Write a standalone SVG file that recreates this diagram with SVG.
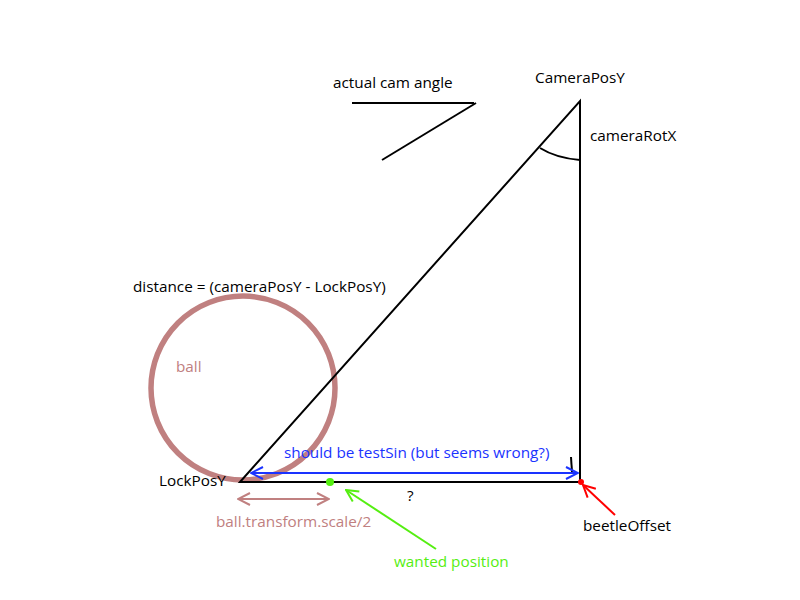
<svg xmlns="http://www.w3.org/2000/svg" width="800" height="600" viewBox="0 0 800 600">
<style>
text{font-family:"Open Sans","Noto Sans","Liberation Sans",sans-serif;font-size:15.3px;fill:#000}
.k{stroke:#000;stroke-width:2;fill:none}
.brown{fill:#c08080}
.blue{fill:#1a33ff}
.green{fill:#55ee11}
</style>
<defs>
<marker id="ab" viewBox="0 0 14 14" refX="13" refY="7" markerWidth="14" markerHeight="14" markerUnits="userSpaceOnUse" orient="auto-start-reverse"><path d="M1,1 L13,7 L1,13" fill="none" stroke="#1a33ff" stroke-width="2"/></marker>
<marker id="abr" viewBox="0 0 14 14" refX="13" refY="7" markerWidth="14" markerHeight="14" markerUnits="userSpaceOnUse" orient="auto-start-reverse"><path d="M1,1 L13,7 L1,13" fill="none" stroke="#c08080" stroke-width="2"/></marker>
<marker id="ag" viewBox="0 0 14 14" refX="13" refY="7" markerWidth="14" markerHeight="14" markerUnits="userSpaceOnUse" orient="auto"><path d="M1,1 L13,7 L1,13" fill="none" stroke="#55ee11" stroke-width="2"/></marker>
<marker id="ar" viewBox="0 0 14 14" refX="13" refY="7" markerWidth="14" markerHeight="14" markerUnits="userSpaceOnUse" orient="auto"><path d="M1,1 L13,7 L1,13" fill="none" stroke="#ff0000" stroke-width="2"/></marker>
</defs>
<rect width="800" height="600" fill="#fff"/>
<g id="ball">
<circle cx="243" cy="388" r="92" fill="none" stroke="#c08080" stroke-width="5.5"/>
<text x="176" y="372" class="brown">ball</text>
</g>
<g id="triangle">
<path class="k" d="M240,482 L580,101 L580,482 Z"/>
<path class="k" d="M540,148 Q556,158 580,160"/>
<path class="k" d="M571,457 L572,472"/>
</g>
<g id="cam-angle">
<path class="k" d="M352,103 L474,103"/>
<path class="k" d="M476,103 L382,160"/>
<text x="333" y="88">actual cam angle</text>
</g>
<g id="labels">
<text x="535" y="83">CameraPosY</text>
<text x="590" y="141">cameraRotX</text>
<text x="133" y="292">distance = (cameraPosY - LockPosY)</text>
<text x="159" y="486">LockPosY</text>
<text x="407" y="501">?</text>
<text x="583" y="531">beetleOffset</text>
<text x="284" y="458" class="blue">should be testSin (but seems wrong?)</text>
<text x="216" y="527" class="brown">ball.transform.scale/2</text>
<text x="394" y="567" class="green">wanted position</text>
</g>
<g id="connectors">
<line x1="251" y1="473" x2="578" y2="473" stroke="#1a33ff" stroke-width="2" marker-start="url(#ab)" marker-end="url(#ab)"/>
<line x1="238" y1="499" x2="329" y2="499" stroke="#c08080" stroke-width="2" marker-start="url(#abr)" marker-end="url(#abr)"/>
<line x1="436" y1="549" x2="346" y2="490" stroke="#55ee11" stroke-width="2" marker-end="url(#ag)"/>
<line x1="615" y1="515" x2="583" y2="485" stroke="#ff0000" stroke-width="2" marker-end="url(#ar)"/>
<circle cx="330" cy="482" r="4" fill="#55ee11"/>
<circle cx="581" cy="482" r="3" fill="#ff0000"/>
</g>
</svg>
